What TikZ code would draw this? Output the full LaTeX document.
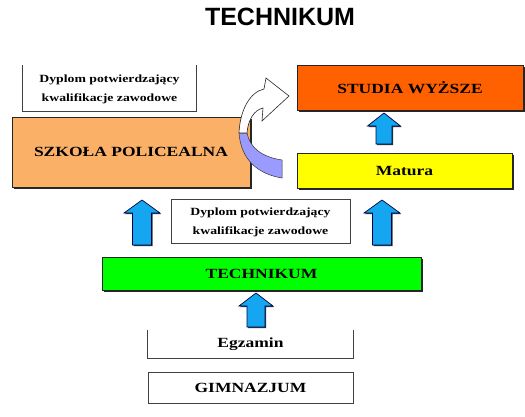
\documentclass[tikz,border=0pt]{standalone}
\usepackage{fontspec}
\setmainfont{Liberation Serif}
\newfontfamily\titlefont{Liberation Sans}
\usepackage{tikz}
\usetikzlibrary{shapes,shadows,calc,positioning}
\definecolor{policeorange}{RGB}{250,176,102}
\definecolor{studiared}{RGB}{255,96,0}
\definecolor{maturayellow}{RGB}{255,255,0}
\definecolor{techgreen}{RGB}{0,255,0}
\definecolor{arrowblue}{RGB}{20,166,240}
\definecolor{bendlavender}{RGB}{155,155,255}
\newcommand{\wide}[1]{\scalebox{1.25}[1]{#1}}
% block arrow pointing up: x, top, bottom, half head, half shaft
\newcommand{\blockup}[5]{\draw[blockarrow] (#1-#5,#3) -- (#1-#5,#2+13) -- (#1-#4,#2+13) -- (#1,#2) -- (#1+#4,#2+13) -- (#1+#5,#2+13) -- (#1+#5,#3) -- cycle;}
\tikzstyle{level}=[draw=black!85,line width=.6pt,inner sep=0pt,drop shadow={opacity=1,fill=black!85,shadow xshift=1.8pt,shadow yshift=-1.8pt}]
\tikzstyle{plain}=[inner sep=0pt]
\tikzstyle{bigtext}=[font=\fontsize{14}{16}\selectfont\bfseries]
\tikzstyle{smalltext}=[font=\fontsize{11}{19}\selectfont\bfseries]
\tikzstyle{blockarrow}=[fill=arrowblue,draw=black!75!blue,line width=.7pt,line join=miter,drop shadow={opacity=1,fill=black!80,shadow xshift=1pt,shadow yshift=-1pt}]
\tikzstyle{frame}=[draw=black!75,line width=1pt]

\begin{document}
\begin{tikzpicture}[x=1pt,y=-1pt]
    \useasboundingbox (0,0) rectangle (525,416);

    \node[font=\titlefont\fontsize{25}{28}\selectfont\bfseries] (title) at (280,16.5) {TECHNIKUM};

    \node[plain,smalltext,minimum width=173pt,minimum height=46pt] (dyplomtop) at (109.5,88) {\wide{\begin{tabular}{c}Dyplom potwierdzający\\ kwalifikacje zawodowe\end{tabular}}};
    \node[level,fill=policeorange,bigtext,minimum width=238pt,minimum height=70pt] (szkola) at (131,152) {\wide{SZKOŁA POLICEALNA}};
    \node[level,fill=studiared,bigtext,minimum width=226pt,minimum height=45pt] (studia) at (410,87.5) {\wide{STUDIA WYŻSZE}};
    \node[level,fill=maturayellow,bigtext,minimum width=215pt,minimum height=35pt] (matura) at (404.5,170.5) {\wide{Matura}};
    \node[frame,plain,smalltext,minimum width=179pt,minimum height=44pt] (dyplommid) at (260.5,221) {\wide{\begin{tabular}{c}Dyplom potwierdzający\\ kwalifikacje zawodowe\end{tabular}}};
    \node[level,fill=techgreen,bigtext,minimum width=319pt,minimum height=33pt] (technikum) at (261.5,273.5) {\wide{TECHNIKUM}};
    \node[plain,bigtext,minimum width=205pt,minimum height=28pt] (egzamin) at (250.5,344) {\wide{Egzamin}};
    \node[frame,plain,bigtext,minimum width=205pt,minimum height=31pt] (gimnazjum) at (250.5,387.5) {\wide{GIMNAZJUM}};

    % open boxes
    \draw[frame] (dyplomtop.north west) -- (dyplomtop.south west) -- (dyplomtop.south east) -- (dyplomtop.north east);
    \draw[frame] (egzamin.north west) -- (egzamin.south west) -- (egzamin.south east) -- (egzamin.north east);

    % block arrows
    \blockup{384}{113}{144}{16.5}{8}
    \blockup{142}{200}{245}{18}{9.5}
    \blockup{382}{200}{245}{18}{9.5}
    \blockup{256}{293}{327}{17}{9}

    % curved arrow
    \draw[fill=bendlavender,draw=black!80,line width=.5pt]
    (282,160) .. controls (262,157) and (250,148) .. (247,133) -- (239,133) .. controls (241,160) and (258,174) .. (282,178) -- cycle;
    \draw[fill=white,draw=black!85,line width=.6pt]
    (239,133) .. controls (240,110) and (250,92) .. (264,89) -- (266,78) -- (289,96) -- (262,121) -- (263,108) .. controls (254,110) and (248,120) .. (247,133) -- cycle;
\end{tikzpicture}
\end{document}
